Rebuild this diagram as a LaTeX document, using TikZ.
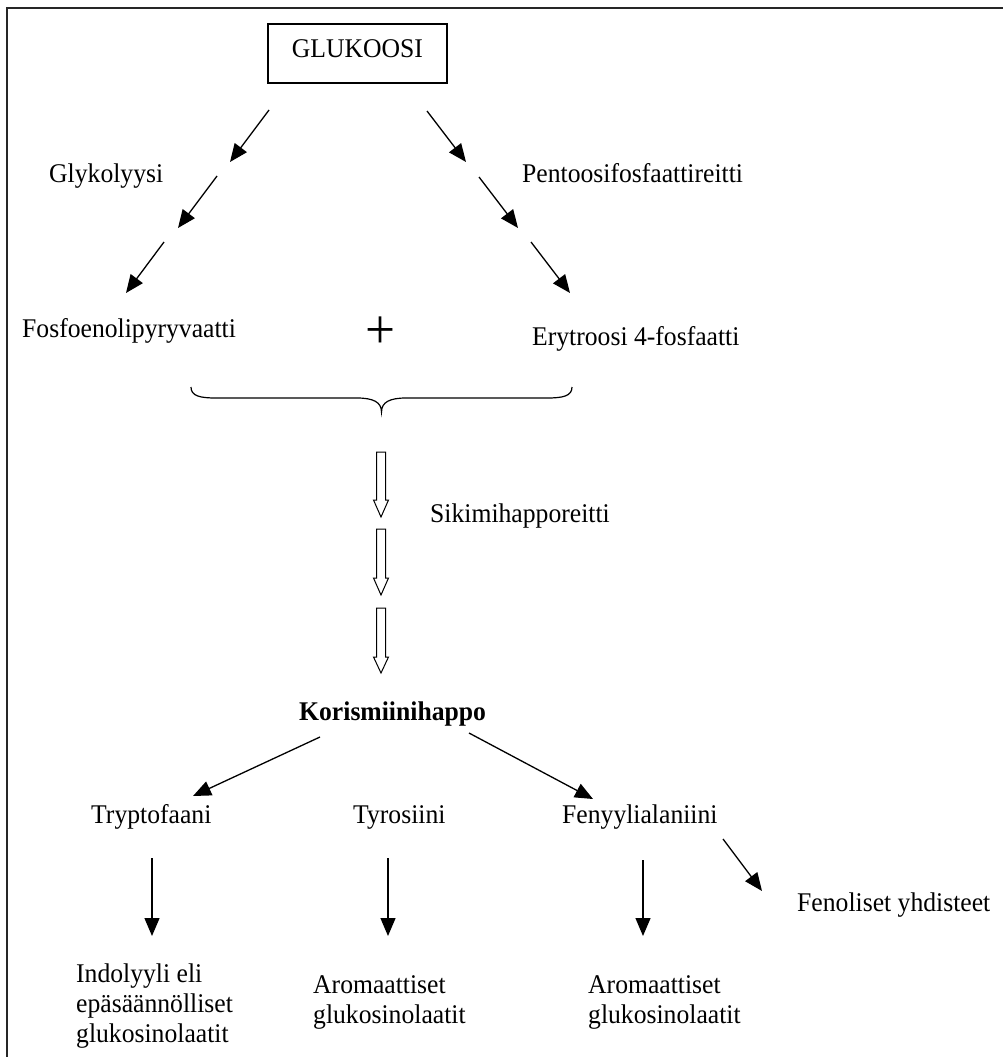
\documentclass[tikz,border=0pt]{standalone}
\usepackage{fontspec}
\setmainfont[FakeStretch=0.95]{Liberation Serif}
\usetikzlibrary{arrows.meta}
\begin{document}
\begin{tikzpicture}[x=1pt,y=-1pt,
  lbl/.style={inner sep=0pt, anchor=base west, font=\fontsize{27}{30}\selectfont},
  multi/.style={lbl, align=left},
  arr/.style={line width=1.3pt, -{Triangle[length=18pt,width=15pt]}},
  hollow/.style={draw, line width=1pt, fill=white},
  frameline/.style={line width=2pt, draw=black!85},
  bracepath/.style={line width=1.2pt}]
\useasboundingbox (0,0) rectangle (1003,1057);
% frame
\draw[frameline] (7,1057) -- (7,8) -- (1003,8);
% top
\node[lbl, anchor=center, draw, line width=1.3pt, minimum width=179pt, minimum height=59pt,
      text height=17pt, text depth=10pt] (glukoosi) at (357.5,53.5) {GLUKOOSI};
\node[lbl] (glyk) at (49,182) {Glykolyysi};
\node[lbl] (pento) at (522,182) {Pentoosifosfaattireitti};
\node[lbl] (fosfo) at (22,337) {Fosfoenolipyryvaatti};
\node[lbl] (ery) at (532,345) {Erytroosi 4-fosfaatti};
\node[inner sep=0pt, font=\fontsize{56}{56}\selectfont] (plus) at (380,333) {+};
% arrow chains from glucose
\coordinate (l1a) at (269,110); \coordinate (l1b) at (230,162);
\coordinate (l2a) at (217,176); \coordinate (l2b) at (178,228);
\coordinate (l3a) at (164,242); \coordinate (l3b) at (126,293);
\coordinate (r1a) at (427,111); \coordinate (r1b) at (466,162);
\coordinate (r2a) at (479,177); \coordinate (r2b) at (518,228);
\coordinate (r3a) at (531,242); \coordinate (r3b) at (570,293);
\draw[arr] (l1a) -- (l1b);
\draw[arr] (l2a) -- (l2b);
\draw[arr] (l3a) -- (l3b);
\draw[arr] (r1a) -- (r1b);
\draw[arr] (r2a) -- (r2b);
\draw[arr] (r3a) -- (r3b);
% brace
\coordinate (bl) at (191,387); \coordinate (br) at (572,387); \coordinate (btip) at (381.5,412);
\draw[bracepath] (bl) .. controls (191,396) and (200,398) .. (216,398) -- (357,398)
  .. controls (373,398) and (381.5,402) .. (btip)
  .. controls (381.5,402) and (390,398) .. (406,398) -- (547,398)
  .. controls (563,398) and (572,396) .. (br);
% hollow arrows
\foreach \t/\h/\p in {452/48/65, 529/49/66, 608/49/65}{
  \draw[hollow] (376.5,\t) -- (385.5,\t) -- (385.5,{\t+\h}) -- (388.5,{\t+\h})
    -- (381,{\t+\p}) -- (373.5,{\t+\h}) -- (376.5,{\t+\h}) -- cycle;
}
\node[lbl] (siki) at (430,522) {Sikimihapporeitti};
% lower part
\node[lbl, font=\fontsize{27}{30}\selectfont\bfseries] (kor) at (299,720) {Korismiinihappo};
\node[lbl] (tryp) at (91,823) {Tryptofaani};
\node[lbl] (tyro) at (353,823) {Tyrosiini};
\node[lbl] (feny) at (562,823) {Fenyylialaniini};
\node[lbl] (fenol) at (797,911) {Fenoliset yhdisteet};
\node[multi] (indol) at (76,1042) {Indolyyli eli\\epäsäännölliset\\glukosinolaatit};
\node[multi] (arom1) at (313,1023) {Aromaattiset\\glukosinolaatit};
\node[multi] (arom2) at (588,1023) {Aromaattiset\\glukosinolaatit};
\coordinate (k1a) at (320,737); \coordinate (k1b) at (193,796);
\coordinate (k2a) at (469,733); \coordinate (k2b) at (593,799);
\draw[arr] (k1a) -- (k1b);
\draw[arr] (k2a) -- (k2b);
\coordinate (v1a) at (152,858); \coordinate (v1b) at (152,936);
\coordinate (v2a) at (388,858); \coordinate (v2b) at (388,936);
\coordinate (v3a) at (643,860); \coordinate (v3b) at (643,936);
\draw[arr] (v1a) -- (v1b);
\draw[arr] (v2a) -- (v2b);
\draw[arr] (v3a) -- (v3b);
\coordinate (fa) at (723,839); \coordinate (fb) at (762,891);
\draw[arr] (fa) -- (fb);
\end{tikzpicture}
\end{document}
